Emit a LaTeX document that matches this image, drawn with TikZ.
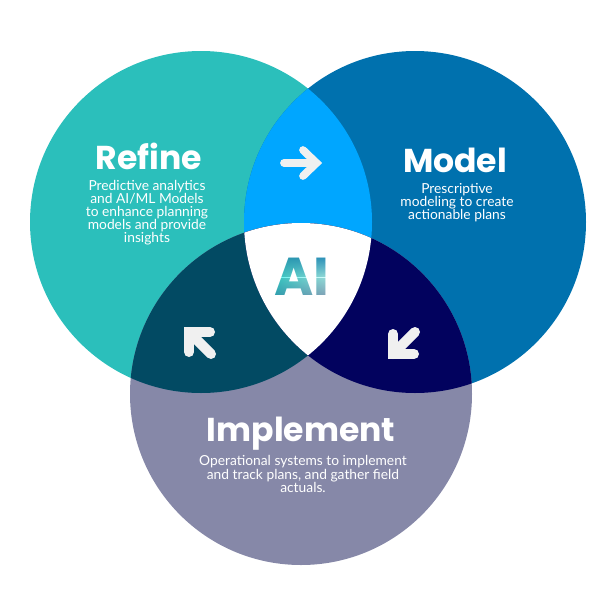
\documentclass[tikz,border=0pt]{standalone}
\usepackage{fontspec}
\setmainfont{Poppins}
\newfontfamily\blurbfont{Lato}
\usepackage{xcolor}
\usetikzlibrary{shadings}
\definecolor{refinecol}{HTML}{2BBFBB}
\definecolor{modelcol}{HTML}{0071AE}
\definecolor{implcol}{HTML}{8688A8}
\definecolor{lensblue}{HTML}{00A6FF}
\definecolor{lensteal}{HTML}{024A63}
\definecolor{lensnavy}{HTML}{02025E}
\definecolor{arrowcol}{HTML}{F0F0F0}
\definecolor{aitop}{HTML}{2A8CA6}
\definecolor{aimid}{HTML}{A6DEDC}
\tikzset{title/.style={text=white,font=\fontsize{24.8}{26}\selectfont\bfseries,align=center,inner sep=0pt},
  blurb/.style={text=white,font=\blurbfont\fontsize{10.35}{9.8}\selectfont,align=center,inner sep=0pt},
  aitext/.style={font=\fontsize{40}{40}\selectfont\bfseries,inner sep=0pt},
  turn/.style={draw=arrowcol,line width=7.5pt,line cap=round,line join=miter}}

\begin{document}
\begin{tikzpicture}[x=0.75pt,y=-0.75pt]
	\useasboundingbox (0,0) rectangle (600,600);

	\def\rad{171}

	\coordinate (crefine) at (201,222);
	\coordinate (cmodel) at (415,222);
	\coordinate (cimpl) at (301,394);

	% circles
	\foreach \c/\col in {crefine/refinecol,cmodel/modelcol,cimpl/implcol} {
		\fill[\col] (\c) circle (\rad);
	}

	% overlaps
	\foreach \a/\b/\col in {crefine/cmodel/lensblue,crefine/cimpl/lensteal,cmodel/cimpl/lensnavy} {
		\begin{scope}
			\clip (\a) circle (\rad);
			\fill[\col] (\b) circle (\rad);
		\end{scope}
	}
	\begin{scope}
		\clip (crefine) circle (\rad);
		\clip (cmodel) circle (\rad);
		\fill[white] (cimpl) circle (\rad);
	\end{scope}

	% labels
	\node[title] (refine) at (149,156.5) {Refine};
	\node[blurb] (refinetxt) at (147,213) {Predictive analytics\\and AI/ML Models\\to enhance planning\\models and provide\\insights};
	\node[title] (model) at (455,160.5) {Model};
	\node[blurb] (modeltxt) at (457,202.5) {Prescriptive\\modeling to create\\actionable plans};
	\node[title] (impl) at (301,433.5) {Implement};
	\node[blurb] (impltxt) at (303,474) {Operational systems to implement\\and track plans, and gather field\\actuals.};

	% AI, black text lit through the shades on the white lens
	\node[aitext,text=black] (ai) at (302,277) {AI};
	\shade[blend mode=screen,upper left=aitop,upper right=modelcol,lower left=refinecol,lower right=aimid]
		(270,250) rectangle (335,277);
	\shade[blend mode=screen,upper left=refinecol,upper right=aimid,lower left=aitop,lower right=implcol]
		(270,277) rectangle (335,304);

	% arrows
	\coordinate (a1) at (284,163);
	\coordinate (a2) at (316.5,163);
	\coordinate (a3) at (303,150);
	\coordinate (a4) at (303,176);
	\draw[turn,line width=5.8pt] (a1) -- (a2);
	\draw[turn,line width=5.8pt] (a3) -- (a2) -- (a4);

	\coordinate (b1) at (211,354);
	\coordinate (b2) at (189,332);
	\coordinate (b3) at (189,352);
	\coordinate (b4) at (210,332);
	\draw[turn] (b1) -- (b2);
	\draw[turn] (b3) -- (b2) -- (b4);

	\coordinate (d1) at (415,332);
	\coordinate (d2) at (393,354);
	\coordinate (d3) at (393,334);
	\coordinate (d4) at (414,354);
	\draw[turn] (d1) -- (d2);
	\draw[turn] (d3) -- (d2) -- (d4);
\end{tikzpicture}
\end{document}
